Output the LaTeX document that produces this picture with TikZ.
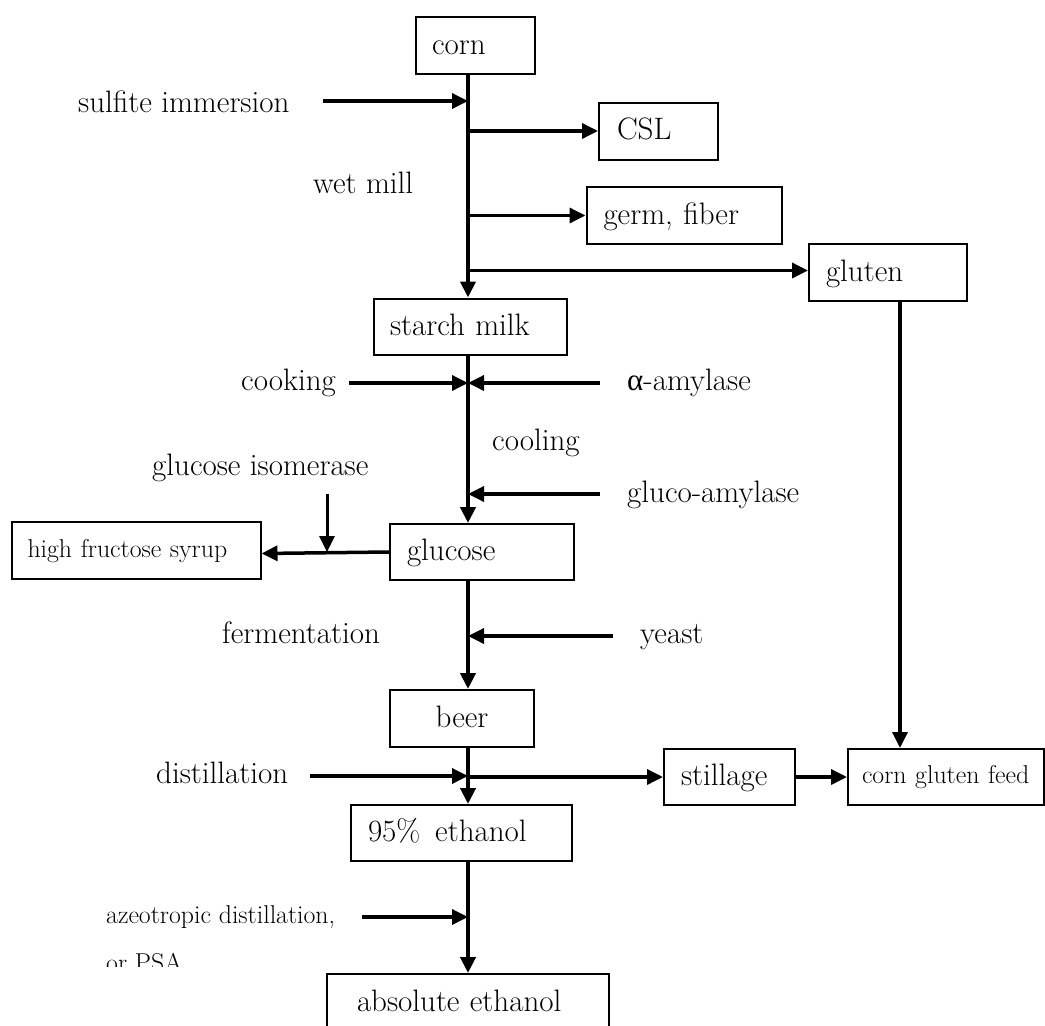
\documentclass[tikz,border=0pt]{standalone}
\usepackage{fontspec}
\newfontfamily\greekfont{Liberation Serif}
\usetikzlibrary{arrows.meta}

\begin{document}
\begin{tikzpicture}[
  x=1pt, y=-1pt,
  box/.style={draw, line width=2pt, anchor=north west, inner xsep=17pt, inner ysep=0pt,
    align=left, text height=22pt, text depth=5pt, minimum height=57pt,
    font=\fontsize{31}{37}\selectfont},
  boxsm/.style={box, font=\fontsize{25.8}{31}\selectfont, text height=19pt, text depth=5.6pt},
  lbl/.style={inner sep=0pt, anchor=base west, font=\fontsize{31}{37}\selectfont},
  lblsm/.style={lbl, font=\fontsize{25.8}{31}\selectfont},
  flow/.style={-{Triangle[length=16pt,width=15pt]}, line width=4pt},
  feed/.style={-{Triangle[length=16pt,width=15pt]}, line width=3.5pt},
]
  \useasboundingbox (0,0) rectangle (1045,1026);

  % main line
  \coordinate (spine) at (468,0);

  % boxes
  \node[box, inner xsep=16pt, text width=87pt] (corn) at (415,16) {corn};
  \node[box, inner xsep=18pt, text width=83pt] (csl) at (598,101.5) {CSL};
  \node[box, text width=161pt] (germ) at (585.5,186) {germ, fiber};
  \node[box, text width=124pt] (gluten) at (808,243) {gluten};
  \node[box, inner xsep=16.5pt, text width=160pt, minimum height=56pt] (starch) at (372.5,297.5) {starch milk};
  \node[box, text width=150pt, minimum height=56pt] (glucose) at (389,523) {glucose};
  \node[boxsm, inner xsep=16pt, text width=217pt] (hfs) at (10.5,521) {high fructose syrup};
  \node[box, align=center, inner xsep=0pt, text width=144pt] (beer) at (389,689) {beer};
  \node[box, text width=187pt, minimum height=56pt] (eth95) at (350,804) {95\%\hspace{0.48em}ethanol};
  \node[box, text width=97pt, minimum height=56pt] (stillage) at (663,748) {stillage};
  \node[boxsm, inner xsep=14pt, text width=168pt, minimum height=56pt] (cgf) at (847,748) {corn gluten feed};
  \node[box, inner xsep=30pt, text width=222pt] (absol) at (326,973) {absolute ethanol};

  % labels
  \node[lbl] (sulfite) at (78,112) {sulfite immersion};
  \node[lbl] (wetmill) at (313,193) {wet mill};
  \node[lbl] (cooking) at (241,390) {cooking};
  \node[lbl] (alpha) at (627,390) {{\greekfont α}-amylase};
  \node[lbl] (cooling) at (492,450) {cooling};
  \node[lbl] (glucoam) at (627,502) {gluco-amylase};
  \node[lbl] (isomer) at (152,475) {glucose isomerase};
  \node[lbl] (ferment) at (222,643) {fermentation};
  \node[lbl] (yeast) at (640,643) {yeast};
  \node[lbl] (distil) at (156,783) {distillation};
  \node[lblsm] (azeo) at (106,923) {azeotropic distillation,};
  \begin{scope}
    \clip (100,935) rectangle (340,966);
    \node[lblsm] (psa) at (106,971) {or PSA};
  \end{scope}

  % feed points
  \coordinate (sulfin) at (323,101);
  \coordinate (cookin) at (349,383);
  \coordinate (alphin) at (600,383);
  \coordinate (gain) at (600,494);
  \coordinate (isoin) at (327,494);
  \coordinate (yeastin) at (613,636);
  \coordinate (distin) at (310,776);
  \coordinate (azeoin) at (362,917);

  % main flow
  \draw[flow] (corn.south -| spine) -- (starch.north -| spine);
  \draw[flow] (starch.south -| spine) -- (glucose.north -| spine);
  \draw[flow] (glucose.south -| spine) -- (beer.north -| spine);
  \draw[flow] (beer.south -| spine) -- (eth95.north -| spine);
  \draw[flow] (eth95.south -| spine) -- (absol.north -| spine);

  % inputs
  \draw[feed] (sulfin) -- (sulfin -| spine);
  \draw[feed] (cookin) -- (cookin -| spine);
  \draw[feed] (alphin) -- (alphin -| spine);
  \draw[feed] (gain) -- (gain -| spine);
  \draw[feed] (yeastin) -- (yeastin -| spine);
  \draw[feed] (distin) -- (distin -| spine);
  \draw[feed] (azeoin) -- (azeoin -| spine);

  % by-products
  \draw[feed] (csl.west -| spine) -- (csl.west);
  \draw[feed] (germ.west -| spine) -- (germ.west);
  \draw[feed] ([yshift=2pt]gluten.west -| spine) -- ([yshift=2pt]gluten.west);
  \draw[feed] (stillage.west -| spine) -- (stillage.west);
  \draw[feed] (stillage.east) -- (cgf.west);
  \draw[feed] ([xshift=12pt]gluten.south) -- ([xshift=12pt]gluten.south |- cgf.north);
  \draw[feed] (glucose.west) -- ([yshift=-3pt]hfs.east);
  \draw[feed, line width=3pt] (isoin) -- (isoin |- glucose.west);
\end{tikzpicture}
\end{document}
